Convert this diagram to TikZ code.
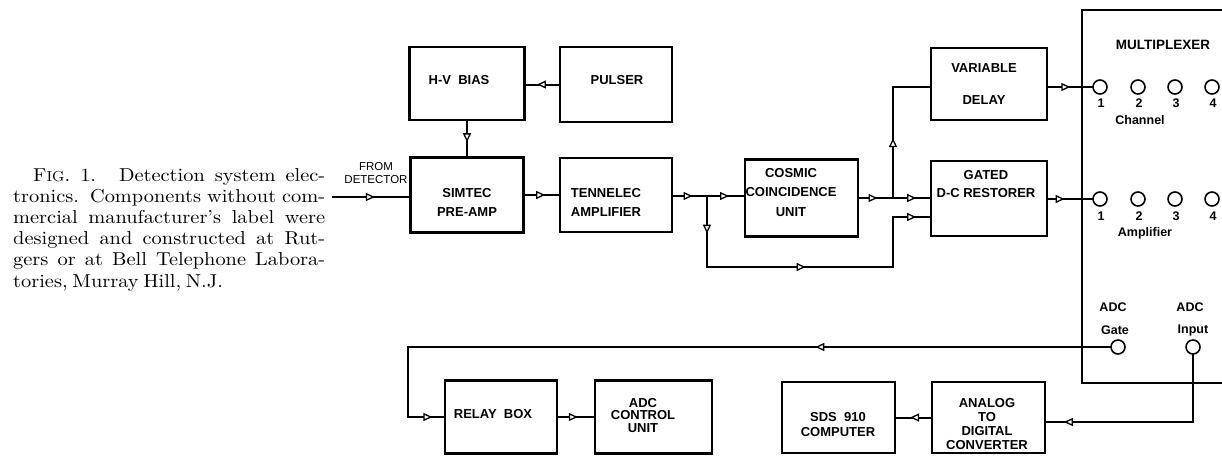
\documentclass[tikz,border=0pt]{standalone}
\usepackage{fontspec}
\newfontfamily\lab{Liberation Sans}
\newfontfamily\capfont{lmroman10-regular.otf}[FakeStretch=1.09]
\newcommand\capsetup{\capfont\fontsize{18.7}{21}\selectfont\spaceskip 4.6pt plus 6pt minus 1.5pt\relax}
\usetikzlibrary{arrows.meta,decorations.markings}
\begin{document}
\begin{tikzpicture}[x=1pt,y=-1pt,
  box/.style={draw, line width=2.6pt, inner sep=0pt},
  btxt/.style={align=center, inner sep=0pt, font=\lab\bfseries\fontsize{13}{19}\selectfont},
  cn/.style={line width=2pt, line cap=rect},
  ar/.style={postaction={decorate}, decoration={markings, mark=at position #1 with {\arrow{Triangle[length=9pt,width=8pt,fill=white,line width=1.3pt]}}}},
  jack/.style={circle, draw, line width=1.6pt, minimum size=14pt, inner sep=0pt},
  lbl/.style={font=\lab\bfseries\fontsize{12.5}{14}\selectfont, inner sep=0pt},
  captxt/.style={anchor=base west, inner sep=0pt, font=\capsetup}]
\path[use as bounding box, clip] (0,0) rectangle (1222,456);

% caption
\node[captxt] (cap1) at (33,181) {\makebox[292pt][s]{F{\fontsize{14.5}{15}\selectfont IG}. 1. Detection system elec-}};
\node[captxt] (cap2) at (13,202.2) {\makebox[312pt][s]{tronics. Components without com-}};
\node[captxt] (cap3) at (13,223.4) {\makebox[312pt][s]{mercial manufacturer’s label were}};
\node[captxt] (cap4) at (13,244.6) {\makebox[312pt][s]{designed and constructed at Rut-}};
\node[captxt] (cap5) at (13,265.8) {\makebox[312pt][s]{gers or at Bell Telephone Labora-}};
\node[captxt] (cap6) at (13,287) {tories, Murray Hill, N.J.};

% boxes
\node[box, minimum width=115pt, minimum height=73pt] (hv) at (467,83.5) {};
\node[btxt] (hvt) at (459,80) {H-V\ \ BIAS};
\node[box, minimum width=112pt, minimum height=75pt] (pul) at (616,84.5) {};
\node[btxt] (pult) at (617,80) {PULSER};
\node[box, minimum width=113pt, minimum height=75pt] (pre) at (467,195) {};
\node[btxt] (pret) at (467,202.5) {SIMTEC\\PRE-AMP};
\node[box, minimum width=112pt, minimum height=74pt] (ten) at (616,195) {};
\node[btxt] (tent) at (606,202.5) {TENNELEC\\AMPLIFIER};
\node[box, minimum width=113pt, minimum height=77pt] (cos) at (801.5,198) {};
\node[btxt, font=\lab\bfseries\fontsize{13}{19.5}\selectfont] (cost) at (791,192.5) {COSMIC\\COINCIDENCE\\UNIT};
\node[box, minimum width=116pt, minimum height=72pt] (vd) at (989,84) {};
\node[btxt, font=\lab\bfseries\fontsize{13}{32}\selectfont] (vdt) at (984,84) {VARIABLE\\DELAY};
\node[box, minimum width=116pt, minimum height=75pt] (gdc) at (989,198.5) {};
\node[btxt, font=\lab\bfseries\fontsize{13}{18}\selectfont] (gdct) at (986,184) {GATED\\D-C RESTORER};
\node[box, minimum width=160pt, minimum height=373pt] (mux) at (1162,196.5) {};
\node[lbl, font=\lab\bfseries\fontsize{13.5}{15}\selectfont] (muxt) at (1163,45) {MULTIPLEXER};
\node[box, minimum width=112pt, minimum height=73pt] (relay) at (501,417) {};
\node[btxt] (relayt) at (493,414) {RELAY\ \ BOX};
\node[box, minimum width=117pt, minimum height=73pt] (adcc) at (653.5,417) {};
\node[btxt, font=\lab\bfseries\fontsize{13}{12.5}\selectfont] (adcct) at (643,415.5) {ADC\\CONTROL\\UNIT};
\node[box, minimum width=113pt, minimum height=71pt] (sds) at (838.5,417.5) {};
\node[btxt, font=\lab\bfseries\fontsize{13}{15}\selectfont] (sdst) at (838,424.5) {SDS\ \ 910\\COMPUTER};
\node[box, minimum width=113pt, minimum height=71pt] (adc) at (988.5,417.5) {};
\node[btxt, font=\lab\bfseries\fontsize{13}{14}\selectfont] (adct) at (987,424) {ANALOG\\TO\\DIGITAL\\CONVERTER};

% jacks
\foreach \i/\x in {1/1100,2/1138,3/1175,4/1212} {
  \node[jack] (ch\i) at (\x,87) {};
  \node[lbl] (chn\i) at (\x+1,103) {\i};
  \node[jack] (am\i) at (\x,199) {};
  \node[lbl] (amn\i) at (\x+1,216) {\i};
}
\node[lbl] (chl) at (1140,120) {Channel};
\node[lbl] (aml) at (1145,233) {Amplifier};
\node[jack] (gate) at (1118,347) {};
\node[lbl] (gt1) at (1113,307) {ADC};
\node[lbl] (gt2) at (1115,330) {Gate};
\node[jack] (inp) at (1193,347) {};
\node[lbl] (in1) at (1190,307) {ADC};
\node[lbl] (in2) at (1193,330) {Input};

% from detector
\node[lbl, font=\lab\fontsize{11.5}{13}\selectfont, align=center] (fd) at (376,173) {FROM\\DETECTOR};
\coordinate (det) at (333,197);

% connectors
\draw[cn, ar=0.55] (det) -- (det -| pre.west);
\draw[cn, ar=0.6] (hv.south) -- (pre.north);
\draw[cn, ar=0.66] (pul.west) -- (pul.west -| hv.east);
\draw[cn, ar=0.6] (pre.east) -- (ten.west);
\coordinate (b1) at (707,196);
\coordinate (b2) at (707,267);
\coordinate (b3) at (893,267);
\coordinate (b4) at (893,217);
\coordinate (b5) at (893,198);
\coordinate (b6) at (893,87);
\draw[cn, ar=0.57] (ten.east |- b1) -- (b1);
\draw[cn, ar=0.6] (b1) -- (b1 -| cos.west);
\draw[cn, ar=0.53] (b1) -- (b2);
\draw[cn, ar=0.53] (b2) -- (b3);
\draw[cn] (b3) -- (b4);
\draw[cn, ar=0.63] (b4) -- (b4 -| gdc.west);
\draw[cn, ar=0.54] (cos.east |- b5) -- (b5);
\draw[cn, ar=0.63] (b5) -- (b5 -| gdc.west);
\draw[cn, ar=0.54] (b5) -- (b6);
\draw[cn] (b6) -- (b6 -| vd.west);
\draw[cn, ar=0.5] (vd.east |- ch1) -- (ch1.west);
\draw[cn, ar=0.37] (gdc.east |- am1) -- (am1.west);
\coordinate (g1) at (408,347);
\coordinate (g2) at (408,417);
\draw[cn, ar=0.42] (gate.west) -- (g1);
\draw[cn] (g1) -- (g2);
\draw[cn, ar=0.68] (g2) -- (g2 -| relay.west);
\draw[cn, ar=0.55] (relay.east) -- (adcc.west);
\coordinate (i1) at (1193,422);
\draw[cn] (inp.south) -- (i1);
\draw[cn, ar=0.88] (i1) -- (i1 -| adc.east);
\draw[cn, ar=0.6] (adc.west) -- (adc.west -| sds.east);
\end{tikzpicture}
\end{document}
